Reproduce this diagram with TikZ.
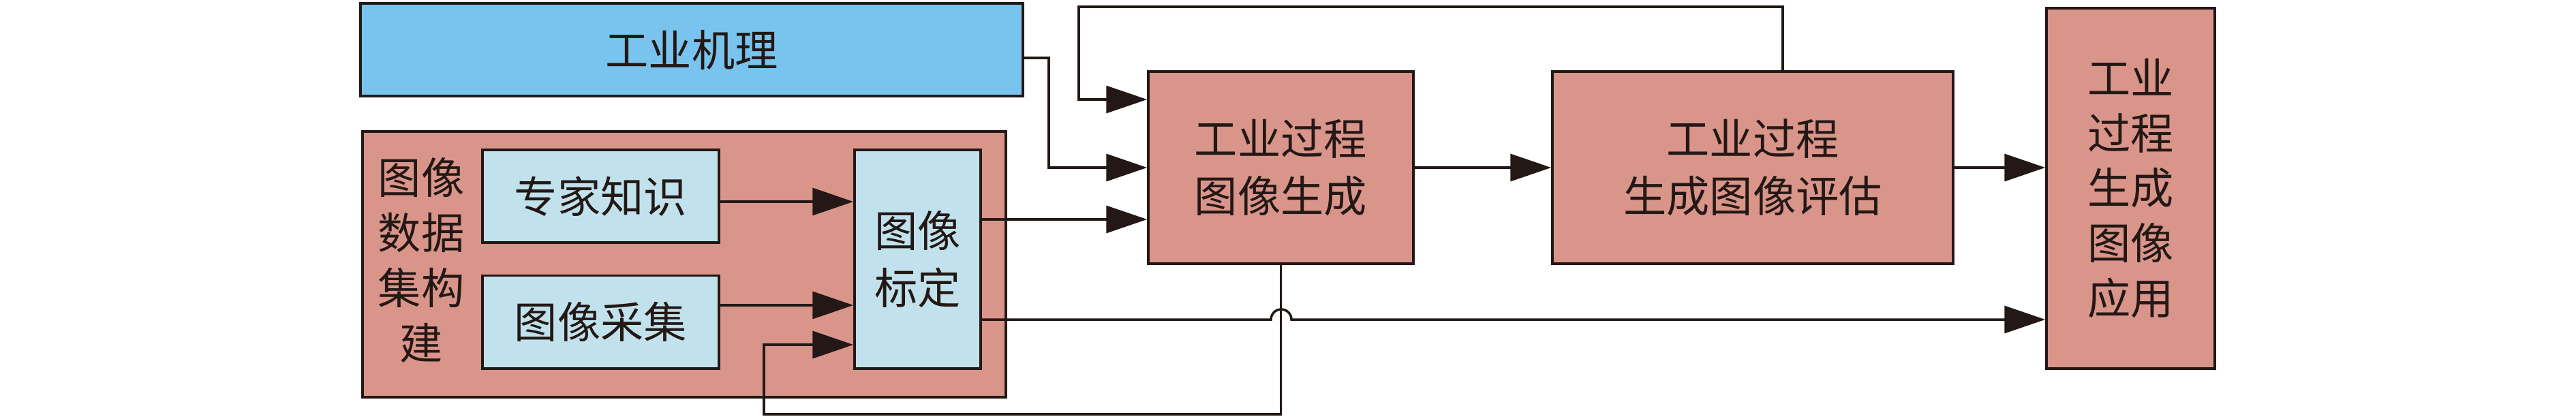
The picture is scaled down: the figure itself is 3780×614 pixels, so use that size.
\documentclass[tikz,border=0pt]{standalone}
\usepackage{fontspec}
\newfontfamily\cjk{Noto Sans CJK SC}
\usetikzlibrary{arrows.meta}
\definecolor{ink}{RGB}{35,24,21}
\definecolor{skyblue}{RGB}{120,196,238}
\definecolor{rosebox}{RGB}{217,149,138}
\definecolor{paleblue}{RGB}{193,226,236}
\begin{document}
\begin{tikzpicture}[x=0.1mm,y=-0.1mm,
  box/.style={draw=ink, line width=0.35mm, inner sep=0pt, text=ink,
    font=\cjk\fontsize{18}{24}\selectfont, align=center},
  lbl/.style={inner sep=0pt, text=ink, font=\cjk\fontsize{18}{23}\selectfont, align=center},
  conn/.style={draw=ink, line width=0.35mm},
  arr/.style={conn, -{Triangle[length=6mm,width=4mm]}}]
\useasboundingbox (0,0) rectangle (3780,614);
% boxes
\node[box, fill=skyblue, minimum width=97.2mm, minimum height=13.6mm] (jl) at (1015,73) {工业机理};
\node[box, fill=rosebox, minimum width=94.4mm, minimum height=39mm] (sj) at (1004,388) {};
\node[lbl] (sjt) at (618,382) {图像\\数据\\集构\\建};
\node[box, fill=paleblue, minimum width=34.7mm, minimum height=13.6mm] (zj) at (881.5,288) {专家知识};
\node[box, fill=paleblue, minimum width=34.7mm, minimum height=13.65mm] (cj) at (881.5,472.7) {图像采集};
\node[box, fill=paleblue, minimum width=18.5mm, minimum height=32.1mm] (bd) at (1346.5,380.5) {图像\\标定};
\node[box, fill=rosebox, minimum width=38.9mm, minimum height=28.2mm] (sc) at (1879.5,246) {工业过程\\图像生成};
\node[box, fill=rosebox, minimum width=58.8mm, minimum height=28.2mm] (pg) at (2572,246) {工业过程\\生成图像评估};
\node[box, fill=rosebox, minimum width=24.7mm, minimum height=52.9mm, font=\cjk\fontsize{18}{23}\selectfont] (yy) at (3126.5,276.5) {工业\\过程\\生成\\图像\\应用};
% helper coordinates
\coordinate (hA) at (0,85);
\coordinate (xA) at (1539,0);
\coordinate (hT) at (0,10);
\coordinate (xT) at (1583,0);
\coordinate (hT2) at (0,146);
\coordinate (xP) at (2616,0);
\coordinate (h322) at (0,322);
\coordinate (h296) at (0,296);
\coordinate (h448) at (0,448);
\coordinate (h506) at (0,506);
\coordinate (h469) at (0,469);
\coordinate (hB) at (0,608);
\coordinate (xL) at (1121,0);
\coordinate (xH) at (1865,0);
% connectors
\draw[arr] (jl.east |- hA) -| (xA |- sc.west) -- (sc.west);
\draw[arr] (xP |- pg.north) -- (xP |- hT) -- (xT |- hT) -- (xT |- hT2) -- (sc.west |- hT2);
\draw[arr] (bd.east |- h322) -- (sc.west |- h322);
\draw[arr] (zj.east |- h296) -- (bd.west |- h296);
\draw[arr] (cj.east |- h448) -- (bd.west |- h448);
\draw[arr] (sc.east) -- (pg.west);
\draw[arr] (pg.east) -- (yy.west |- pg.east);
\draw[arr] (bd.east |- h469) -- (xH |- h469) arc[start angle=180, end angle=0, radius=1.5mm] -- (yy.west |- h469);
\draw[arr] (sc.south) -- (sc.south |- hB) -- (xL |- hB) -- (xL |- h506) -- (bd.west |- h506);
\end{tikzpicture}
\end{document}
